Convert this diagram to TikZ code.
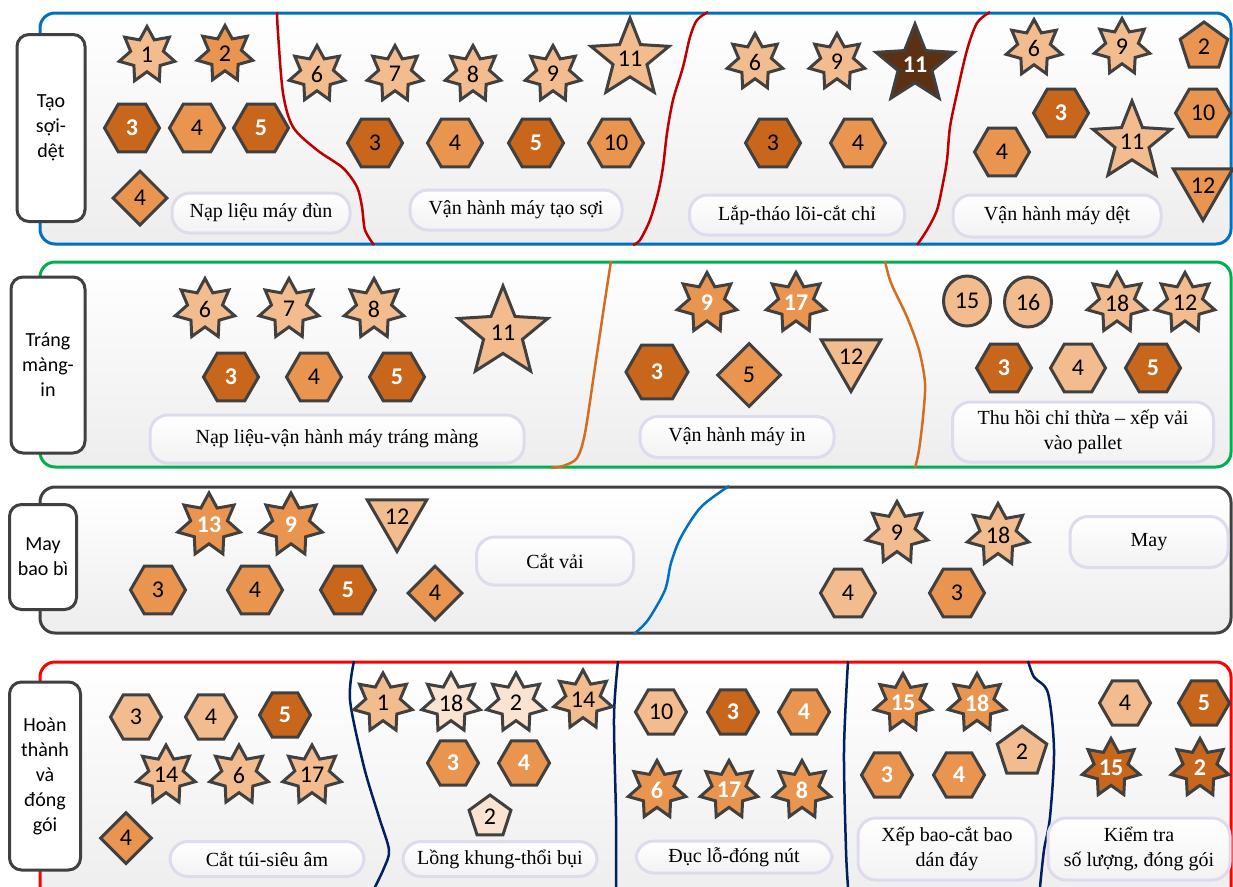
\documentclass[tikz,border=0pt]{standalone}
\usepackage{fontspec}
\setmainfont{Liberation Serif}
\newfontfamily\numfont{Carlito}
\usetikzlibrary{shapes.geometric}
\definecolor{Bd}{HTML}{404040}
\definecolor{LtOr}{HTML}{F2BC8E}
\definecolor{MdOr}{HTML}{E9944F}
\definecolor{DkOr}{HTML}{C8661B}
\definecolor{PaOr}{HTML}{FAE3D0}
\definecolor{Brn}{HTML}{5C3113}
\definecolor{BlueLn}{HTML}{0070C0}
\definecolor{GreenLn}{HTML}{00B050}
\definecolor{RedLn}{HTML}{FF0000}
\definecolor{DkRed}{HTML}{C00000}
\definecolor{OrLn}{HTML}{D46E1E}
\definecolor{Navy}{HTML}{002060}
\definecolor{Lav}{HTML}{DEDBEC}

\begin{document}
\begin{tikzpicture}[x=1pt,y=-1pt,
band/.style={line width=3pt,rounded corners=15pt,top color=white,bottom color=black!7},
cut/.style={line width=2.5pt},
side/.style={draw=Bd,line width=3pt,fill=white,rounded corners=12pt,align=center,font=\numfont\fontsize{20}{25}\selectfont},
pill/.style={draw=Lav,line width=3pt,rounded corners=18pt,top color=white,bottom color=black!5,align=center,font=\fontsize{20}{25}\selectfont},
shp/.style={draw=Bd,line width=3pt,inner sep=0pt,font=\numfont\fontsize{24}{24}\selectfont},
st/.style={shp,star,star points=7,star point ratio=1.7,minimum size=57pt},
bst/.style={shp,star,star points=5,star point ratio=2.3,minimum size=82pt},
hx/.style={shp,regular polygon,regular polygon sides=6,minimum size=55pt},
dm/.style={shp,diamond,minimum size=55pt},
pg/.style={shp,regular polygon,regular polygon sides=5,minimum size=50pt},
tri/.style={shp,regular polygon,regular polygon sides=3,shape border rotate=180,minimum size=68pt},
ov/.style={shp,ellipse,minimum width=47pt,minimum height=50pt},
wt/.style={text=white,font=\numfont\fontsize{24}{24}\selectfont\bfseries},
lo/.style={fill=LtOr},
po/.style={fill=PaOr},
mo/.style={fill=MdOr},
mw/.style={fill=MdOr,wt},
db/.style={fill=DkOr},
dw/.style={fill=DkOr,wt},
bw/.style={fill=Brn,wt}]

\useasboundingbox (0,0) rectangle (1233,886);

% Tao soi - det
\draw[band,draw=BlueLn] (40,13) rectangle (1231,244);
\draw[cut,DkRed] plot[smooth] coordinates {(277,12) (278,33) (283,93) (293,127) (317,150) (343,168) (357,187) (362,207) (365,230) (374,245)};
\draw[cut,DkRed] plot[smooth] coordinates {(708,12) (697,20) (690,37) (683,67) (673,100) (667,133) (663,167) (658,193) (650,220) (640,240) (633,245)};
\draw[cut,DkRed] plot[smooth] coordinates {(990,12) (977,23) (967,50) (957,93) (950,127) (947,160) (943,183) (937,210) (927,230) (917,245)};
\node[side,minimum width=68pt,minimum height=187pt] (ts) at (51,128) {Tạo\\sợi-\\dệt};

\node[st,lo] (tsa1) at (147,55) {1};
\node[st,mo] (tsa2) at (225,54) {2};
\node[hx,dw] (tsa3) at (132,128) {3};
\node[hx,mo] (tsa4) at (197,128) {4};
\node[hx,dw] (tsa5) at (261,128) {5};
\node[dm,mo] (tsa6) at (140,198) {4};
\node[pill,minimum width=178pt,minimum height=40pt] (tsa) at (261,213) {Nạp liệu máy đùn};

\node[st,lo] (tsb1) at (317,74) {6};
\node[st,lo] (tsb2) at (395,74) {7};
\node[st,lo] (tsb3) at (473,74) {8};
\node[st,lo] (tsb4) at (553,74) {9};
\node[bst,lo] (tsb5) at (630,59) {11};
\node[hx,db] (tsb6) at (375,143) {3};
\node[hx,mo] (tsb7) at (455,143) {4};
\node[hx,dw] (tsb8) at (536,143) {5};
\node[hx,mo] (tsb9) at (616,143) {10};
\node[pill,minimum width=212pt,minimum height=40pt] (tsb) at (516,210) {Vận hành máy tạo sợi};

\node[st,lo] (tsc1) at (755,62) {6};
\node[st,lo] (tsc2) at (837,62) {9};
\node[bst,bw] (tsc3) at (915,65) {11};
\node[hx,db] (tsc4) at (773,143) {3};
\node[hx,mo] (tsc5) at (858,143) {4};
\node[pill,minimum width=215pt,minimum height=40pt] (tsc) at (797,215) {Lắp-tháo lõi-cắt chỉ};

\node[st,lo] (tsd1) at (1034,48) {6};
\node[st,lo] (tsd2) at (1122,47) {9};
\node[pg,mo] (tsd3) at (1204,47) {2};
\node[hx,dw] (tsd4) at (1061,113) {3};
\node[hx,mo] (tsd5) at (1203,113) {10};
\node[hx,mo] (tsd6) at (1002,152) {4};
\node[bst,lo] (tsd7) at (1132,142) {11};
\node[tri,mo] (tsd8) at (1203,186) {12};
\node[pill,minimum width=208pt,minimum height=42pt] (tsd) at (1057,216) {Vận hành máy dệt};

% Trang mang - in
\draw[band,draw=GreenLn] (40,262) rectangle (1231,467);
\draw[cut,OrLn] plot[smooth] coordinates {(611,261) (605,300) (595,367) (585,433) (577,458) (563,466) (551,468)};
\draw[cut,OrLn] plot[smooth] coordinates {(885,261) (891,283) (907,317) (919,350) (925,383) (923,417) (919,450) (915,468)};
\node[side,minimum width=74pt,minimum height=176pt] (tm) at (48,365) {Tráng\\màng-\\in};

\node[st,lo,minimum size=61pt] (tma1) at (205,309) {6};
\node[st,lo,minimum size=61pt] (tma2) at (289,309) {7};
\node[st,lo,minimum size=61pt] (tma3) at (374,309) {8};
\node[bst,lo,minimum size=94pt] (tma4) at (503,333) {11};
\node[hx,dw] (tma5) at (231,377) {3};
\node[hx,mo] (tma6) at (314,377) {4};
\node[hx,dw] (tma7) at (397,377) {5};
\node[pill,minimum width=374pt,minimum height=48pt] (tma) at (337,439) {Nạp liệu-vận hành máy tráng màng};

\node[st,mw,minimum size=61pt] (tmb1) at (707,303) {9};
\node[st,mw,minimum size=61pt] (tmb2) at (796,303) {17};
\node[hx,dw,minimum size=62pt] (tmb3) at (657,372) {3};
\node[dm,mo,minimum size=64pt] (tmb4) at (749,375) {5};
\node[tri,lo] (tmb5) at (851,357) {12};
\node[pill,minimum width=194pt,minimum height=41pt] (tmb) at (737,437) {Vận hành máy in};

\node[ov,lo] (tmc1) at (967,301) {15};
\node[ov,lo] (tmc2) at (1028,302) {16};
\node[st,lo,minimum size=61pt] (tmc3) at (1117,303) {18};
\node[st,lo,minimum size=61pt] (tmc4) at (1185,303) {12};
\node[hx,dw] (tmc5) at (1004,368) {3};
\node[hx,lo] (tmc6) at (1078,368) {4};
\node[hx,dw] (tmc7) at (1153,368) {5};
\node[pill,minimum width=261pt,minimum height=60pt] (tmc) at (1083,432) {Thu hồi chỉ thừa – xếp vải\\vào pallet};

% May bao bi
\draw[band,draw=Bd] (40,487) rectangle (1231,633);
\draw[cut,BlueLn] plot[smooth] coordinates {(729,486) (701,507) (681,537) (671,563) (665,590) (648,620) (634,634)};
\node[side,minimum width=67pt,minimum height=105pt] (mb) at (43,557) {May\\bao bì};

\node[st,mw,minimum size=64pt] (mba1) at (209,525) {13};
\node[st,mw,minimum size=64pt] (mba2) at (291,525) {9};
\node[tri,lo,minimum size=66pt] (mba3) at (397,517) {12};
\node[hx,mo] (mba4) at (158,590) {3};
\node[hx,mo] (mba5) at (255,590) {4};
\node[hx,dw] (mba6) at (348,590) {5};
\node[dm,mo] (mba7) at (435,593) {4};
\node[pill,minimum width=157pt,minimum height=48pt] (mba) at (555,561) {Cắt vải};

\node[st,lo,minimum size=63pt] (mbb1) at (897,533) {9};
\node[st,lo,minimum size=63pt] (mbb2) at (998,535) {18};
\node[hx,lo] (mbb3) at (848,593) {4};
\node[hx,mo] (mbb4) at (957,593) {3};
\node[pill,minimum width=158pt,minimum height=51pt] (mbb) at (1149,542) {May};

% Hoan thanh va dong goi
\draw[band,draw=RedLn] (40,662) rectangle (1231,905);
\draw[cut,Navy] plot[smooth] coordinates {(354,661) (350,700) (364,767) (379,817) (389,850) (384,868) (375,887)};
\draw[cut,Navy] plot[smooth] coordinates {(618,661) (614,717) (616,817) (616,887)};
\draw[cut,Navy] plot[smooth] coordinates {(848,661) (844,750) (846,850) (848,887)};
\draw[cut,Navy] plot[smooth] coordinates {(1028,661) (1034,677) (1048,693) (1054,750) (1050,817) (1044,850) (1040,887)};
\node[side,minimum width=71pt,minimum height=188pt] (ht) at (45,776) {Hoàn\\thành\\và\\đóng\\gói};

\node[hx,lo,minimum size=51pt] (hta1) at (136,717) {3};
\node[hx,lo,minimum size=51pt] (hta2) at (211,717) {4};
\node[hx,dw,minimum size=51pt] (hta3) at (285,715) {5};
\node[st,lo,minimum size=60pt] (hta4) at (166,775) {14};
\node[st,lo,minimum size=60pt] (hta5) at (239,775) {6};
\node[st,lo,minimum size=60pt] (hta6) at (312,775) {17};
\node[dm,mo,minimum size=52pt] (hta7) at (126,838) {4};
\node[pill,minimum width=194pt,minimum height=35pt] (hta) at (267,859) {Cắt túi-siêu âm};

\node[st,lo,minimum size=60pt] (htb1) at (383,703) {1};
\node[st,po,minimum size=60pt] (htb2) at (451,703) {18};
\node[st,po,minimum size=60pt] (htb3) at (516,703) {2};
\node[st,lo,minimum size=60pt] (htb4) at (583,700) {14};
\node[hx,mw,minimum size=51pt] (htb5) at (453,763) {3};
\node[hx,mw,minimum size=51pt] (htb6) at (524,763) {4};
\node[pg,po,minimum size=44pt] (htb7) at (490,817) {2};
\node[pill,minimum width=194pt,minimum height=35pt] (htb) at (500,859) {Lồng khung-thổi bụi};

\node[hx,lo,minimum size=51pt] (htc1) at (661,712) {10};
\node[hx,dw,minimum size=51pt] (htc2) at (733,712) {3};
\node[hx,mw,minimum size=51pt] (htc3) at (804,712) {4};
\node[st,mw,minimum size=59pt] (htc4) at (657,790) {6};
\node[st,mw,minimum size=59pt] (htc5) at (729,790) {17};
\node[st,mw,minimum size=59pt] (htc6) at (802,790) {8};
\node[pill,minimum width=196pt,minimum height=32pt] (htc) at (734,857) {Đục lỗ-đóng nút};

\node[st,mw,minimum size=59pt] (htd1) at (903,703) {15};
\node[st,mw,minimum size=59pt] (htd2) at (977,703) {18};
\node[pg,lo,minimum size=52pt] (htd3) at (1022,752) {2};
\node[hx,mw,minimum size=51pt] (htd4) at (887,775) {3};
\node[hx,mw,minimum size=51pt] (htd5) at (959,775) {4};
\node[pill,minimum width=178pt,minimum height=62pt] (htd) at (947,849) {Xếp bao-cắt bao\\dán đáy};

\node[hx,lo,minimum size=51pt] (hte1) at (1125,703) {4};
\node[hx,dw,minimum size=51pt] (hte2) at (1204,703) {5};
\node[st,dw,minimum size=59pt] (hte3) at (1111,768) {15};
\node[st,dw,minimum size=59pt] (hte4) at (1200,768) {2};
\node[pill,minimum width=182pt,minimum height=62pt] (hte) at (1139,849) {Kiểm tra\\số lượng, đóng gói};

\end{tikzpicture}
\end{document}
